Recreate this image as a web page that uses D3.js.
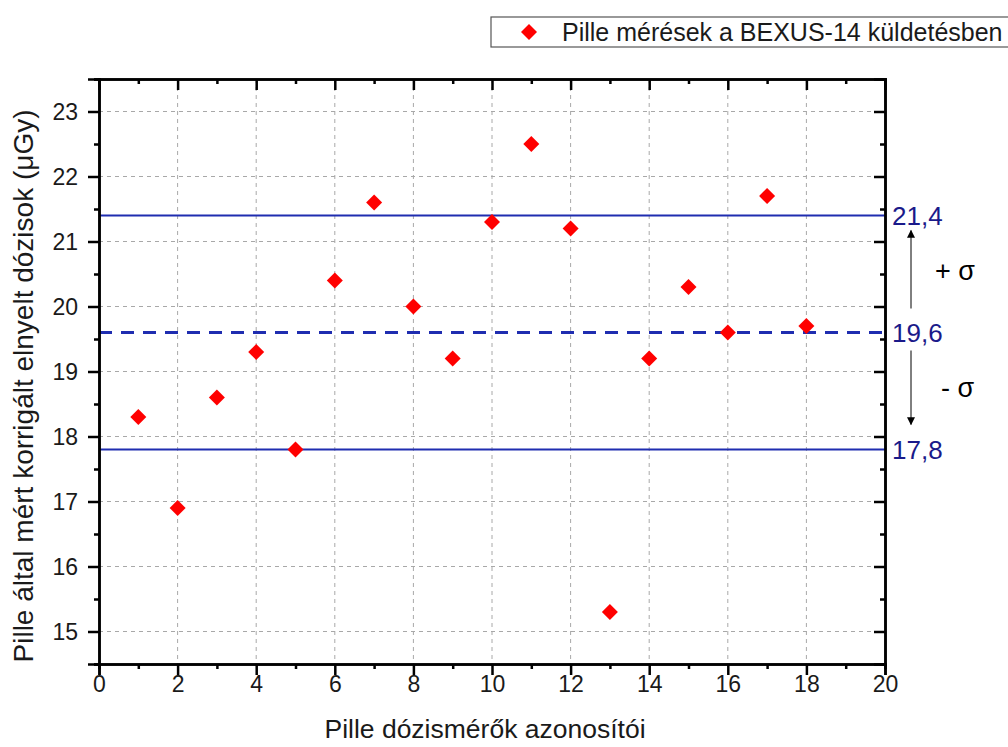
<!DOCTYPE html>
<html>
<head>
<meta charset="utf-8">
<script src="https://cdn.jsdelivr.net/npm/d3@7"></script>
<style>
  html, body { margin: 0; padding: 0; background: #fff; }
  svg { display: block; font-family: Arial, "Liberation Sans", sans-serif; }
</style>
</head>
<body>
<svg id="chart" width="1008" height="747"></svg>
<script>
// Pille dosimeter readings on BEXUS-14
const detectorIds = [1, 2, 3, 4, 5, 6, 7, 8, 9, 10, 11, 12, 13, 14, 15, 16, 17, 18];
const doses = [18.3, 16.9, 18.6, 19.3, 17.8, 20.4, 21.6, 20.0, 19.2, 21.3, 22.5, 21.2, 15.3, 19.2, 20.3, 19.6, 21.7, 19.7];
const meanDose = 19.6;
const upperSigma = 21.4;
const lowerSigma = 17.8;
const xTicks = [0, 2, 4, 6, 8, 10, 12, 14, 16, 18, 20];
const yTicks = [15, 16, 17, 18, 19, 20, 21, 22, 23];
const legendLabel = "Pille mérések a BEXUS-14 küldetésben";
const xTitle = "Pille dózismérők azonosítói";
const yTitle = "Pille által mért korrigált elnyelt dózisok (\u03BCGy)";

const svg = d3.select("#chart");
const L = 99, R = 885, T = 79, B = 664;

const x = d3.scaleLinear().domain([0, 20]).range([L, R]);
const y = d3.scaleLinear().domain([14.5, 23.5]).range([B, T]);

const navy = "#1a1a8a";
const lineBlue = "#1f2db0";
const textCol = "#1a1a1a";

// grid
const grid = svg.append("g");
grid.selectAll("line.gx").data(xTicks.filter(d => d > 0 && d < 20)).enter().append("line")
  .attr("x1", d => x(d)).attr("x2", d => x(d)).attr("y1", T).attr("y2", B)
  .attr("stroke", "#a8a8a8").attr("stroke-width", 1).attr("stroke-dasharray", "4,4");
grid.selectAll("line.gy").data(yTicks).enter().append("line")
  .attr("x1", L).attr("x2", R).attr("y1", d => y(d)).attr("y2", d => y(d))
  .attr("stroke", "#a8a8a8").attr("stroke-width", 1).attr("stroke-dasharray", "4,4");

// reference lines
const refs = [
  { v: upperSigma, dash: null, w: 2 },
  { v: meanDose, dash: "13,9", w: 3 },
  { v: lowerSigma, dash: null, w: 2 }
];
svg.append("g").selectAll("line").data(refs).enter().append("line")
  .attr("x1", L).attr("x2", R).attr("y1", d => y(d.v)).attr("y2", d => y(d.v))
  .attr("stroke", lineBlue).attr("stroke-width", d => d.w)
  .attr("stroke-dasharray", d => d.dash);

// axes
const xMinor = d3.range(1, 20, 2);
const yMinor = d3.range(14.5, 23.6, 1);

const axBottom = svg.append("g").attr("transform", `translate(0,${B})`)
  .call(d3.axisBottom(x).tickValues(xTicks).tickSize(11).tickPadding(1).tickFormat(d3.format("d")));
const axBottomMinor = svg.append("g").attr("transform", `translate(0,${B})`)
  .call(d3.axisBottom(x).tickValues(xMinor).tickSize(5).tickFormat(""));
const axLeft = svg.append("g").attr("transform", `translate(${L},0)`)
  .call(d3.axisLeft(y).tickValues(yTicks).tickSize(11).tickPadding(10).tickFormat(d3.format("d")));
const axLeftMinor = svg.append("g").attr("transform", `translate(${L},0)`)
  .call(d3.axisLeft(y).tickValues(yMinor).tickSize(5).tickFormat(""));
const axTop = svg.append("g").attr("transform", `translate(0,${T})`)
  .call(d3.axisBottom(x).tickValues(xTicks).tickSize(11).tickFormat(""));
const axTopMinor = svg.append("g").attr("transform", `translate(0,${T})`)
  .call(d3.axisBottom(x).tickValues(xMinor).tickSize(5).tickFormat(""));
const axRight = svg.append("g").attr("transform", `translate(${R},0)`)
  .call(d3.axisLeft(y).tickValues(yTicks).tickSize(11).tickFormat(""));
const axRightMinor = svg.append("g").attr("transform", `translate(${R},0)`)
  .call(d3.axisLeft(y).tickValues(yMinor).tickSize(5).tickFormat(""));

[axBottom, axBottomMinor, axLeft, axLeftMinor, axTop, axTopMinor, axRight, axRightMinor].forEach(g => {
  g.select(".domain").attr("stroke", "#000").attr("stroke-width", 2.5);
  g.selectAll(".tick line").attr("stroke", "#000").attr("stroke-width", 2.5);
  g.selectAll(".tick text").attr("fill", textCol).attr("font-size", 23)
    .attr("font-family", "Arial, 'Liberation Sans', sans-serif");
});
axLeft.selectAll(".tick text").attr("dy", "0.36em");

// markers
const diamond = d3.symbol().type(d3.symbolSquare).size(128);
svg.append("g").selectAll("path").data(detectorIds).enter().append("path")
  .attr("d", diamond)
  .attr("transform", (d, i) => `translate(${x(d)},${y(doses[i])}) rotate(45)`)
  .attr("fill", "#ff0000");

// right-side value labels
svg.append("g").selectAll("text").data([upperSigma, meanDose, lowerSigma]).enter().append("text")
  .attr("x", R + 7).attr("y", d => y(d)).attr("dy", "0.36em")
  .attr("font-size", 26).attr("fill", navy)
  .text(d => d3.format(".1f")(d).replace(".", ","));

// sigma arrows
const defs = svg.append("defs");
defs.append("marker").attr("id", "ah").attr("viewBox", "0 0 10 10")
  .attr("refX", 9).attr("refY", 5).attr("markerWidth", 14).attr("markerHeight", 8)
  .attr("markerUnits", "userSpaceOnUse").attr("orient", "auto")
  .append("path").attr("d", "M0,0 L10,5 L0,10 Z").attr("fill", "#000");
const arrowX = 911;
svg.append("line").attr("x1", arrowX).attr("x2", arrowX)
  .attr("y1", y(meanDose) - 24).attr("y2", y(upperSigma) + 15)
  .attr("stroke", "#000").attr("stroke-width", 1).attr("marker-end", "url(#ah)");
svg.append("line").attr("x1", arrowX).attr("x2", arrowX)
  .attr("y1", y(meanDose) + 18).attr("y2", y(lowerSigma) - 25)
  .attr("stroke", "#000").attr("stroke-width", 1).attr("marker-end", "url(#ah)");
svg.append("text").attr("x", 935).attr("y", 280).attr("font-size", 27).attr("fill", "#000")
  .text("+ \u03C3");
svg.append("text").attr("x", 941).attr("y", 397).attr("font-size", 27).attr("fill", "#000")
  .text("- \u03C3");

// legend
const lg = svg.append("g");
lg.append("rect").attr("x", 491).attr("y", 17).attr("width", 530).attr("height", 30)
  .attr("fill", "#fff").attr("stroke", "#555").attr("stroke-width", 1.2);
lg.append("path").attr("d", diamond)
  .attr("transform", "translate(529,32) rotate(45)").attr("fill", "#ff0000");
lg.append("text").attr("x", 562).attr("y", 41).attr("font-size", 25).attr("fill", textCol)
  .text(legendLabel);

// axis titles
svg.append("text").attr("x", 485).attr("y", 738).attr("text-anchor", "middle")
  .attr("font-size", 26.5).attr("fill", textCol).text(xTitle);
svg.append("text").attr("transform", `translate(33,386) rotate(-90)`)
  .attr("text-anchor", "middle").attr("font-size", 28).attr("fill", textCol).text(yTitle);
</script>
</body>
</html>
